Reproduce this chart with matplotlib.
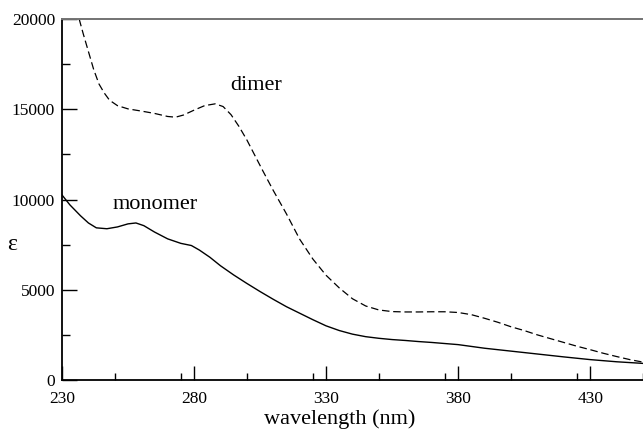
import matplotlib
matplotlib.use("Agg")
import matplotlib.pyplot as plt
from matplotlib.ticker import MultipleLocator

# absorption spectra (wavelength in nm, epsilon)
mono_wl = [230, 233, 237, 240, 243, 247, 251, 255, 258, 261, 265, 270, 275, 279, 282,
           286, 290, 295, 300, 305, 310, 315, 320, 325, 330, 335, 340, 345, 350, 355,
           360, 365, 370, 375, 380, 385, 390, 395, 400, 410, 420, 430, 440, 450]
mono_eps = [10250, 9700, 9100, 8700, 8430, 8380, 8480, 8650, 8700, 8550, 8200, 7820, 7570, 7450, 7200,
            6800, 6330, 5820, 5350, 4900, 4470, 4060, 3700, 3340, 3000, 2740, 2540, 2400, 2310, 2240,
            2190, 2130, 2080, 2020, 1960, 1860, 1760, 1680, 1600, 1440, 1280, 1130, 1010, 920]

dimer_wl = [236.5, 238, 240, 242, 244, 246, 248, 251, 255, 260, 265, 270, 273, 276, 280,
            284, 288, 291, 294, 297, 300, 303, 306, 310, 315, 320, 325, 330, 335, 340,
            345, 350, 355, 360, 365, 370, 375, 380, 385, 390, 395, 400, 405, 410, 415,
            420, 425, 430, 435, 440, 445, 450]
dimer_eps = [20000, 19200, 18200, 17200, 16400, 15900, 15500, 15200, 15020, 14900, 14770, 14600, 14560, 14680, 14950,
             15200, 15300, 15150, 14700, 14050, 13300, 12450, 11600, 10500, 9200, 7800, 6700, 5800, 5100, 4500,
             4100, 3880, 3790, 3770, 3770, 3780, 3780, 3740, 3620, 3420, 3200, 2950, 2740, 2500, 2290,
             2080, 1870, 1680, 1480, 1300, 1130, 990]

x_ticks = [230, 280, 330, 380, 430]
y_ticks = [0, 5000, 10000, 15000, 20000]

plt.rcParams['font.family'] = ['Liberation Serif', 'DejaVu Serif']

fig = plt.figure(figsize=(6.43, 4.32), dpi=100)
ax = fig.add_axes([62 / 643, 1 - 380 / 432, 1 - 62 / 643, (380 - 19) / 432])

ax.plot(mono_wl, mono_eps, color='black', lw=1.0)
ax.plot(dimer_wl, dimer_eps, color='black', lw=0.9, dashes=(6, 3))

ax.set_xlim(230, 450)
ax.set_ylim(0, 20000)
ax.set_xticks(x_ticks)
ax.set_yticks(y_ticks)
ax.xaxis.set_minor_locator(MultipleLocator(25))
ax.yaxis.set_minor_locator(MultipleLocator(2500))
ax.tick_params(which='both', direction='in', top=False, right=False, width=1.0, labelsize=12.5)
ax.tick_params(axis='x', which='major', length=10, pad=8)
ax.tick_params(axis='x', which='minor', length=5)
ax.tick_params(axis='y', which='major', length=11, pad=5)
ax.tick_params(axis='y', which='minor', length=5.5)

for s in ['left', 'bottom']:
    ax.spines[s].set_linewidth(1.3)
ax.spines['top'].set_color('0.45')
ax.spines['top'].set_linewidth(1.4)
ax.spines['right'].set_visible(False)

ax.text(249, 9700, 'monomer', fontsize=16, va='center', ha='left')
ax.text(293.6, 16300, 'dimer', fontsize=16, va='center', ha='left')

ax.set_xlabel('wavelength (nm)', fontsize=16)
ax.xaxis.set_label_coords((340 - 62) / 581, -(409 - 380) / 361)
fig.text(12 / 643, 1 - 245 / 432, 'ε', fontsize=17, ha='center', va='center')

fig.savefig('out.png', dpi=100)
